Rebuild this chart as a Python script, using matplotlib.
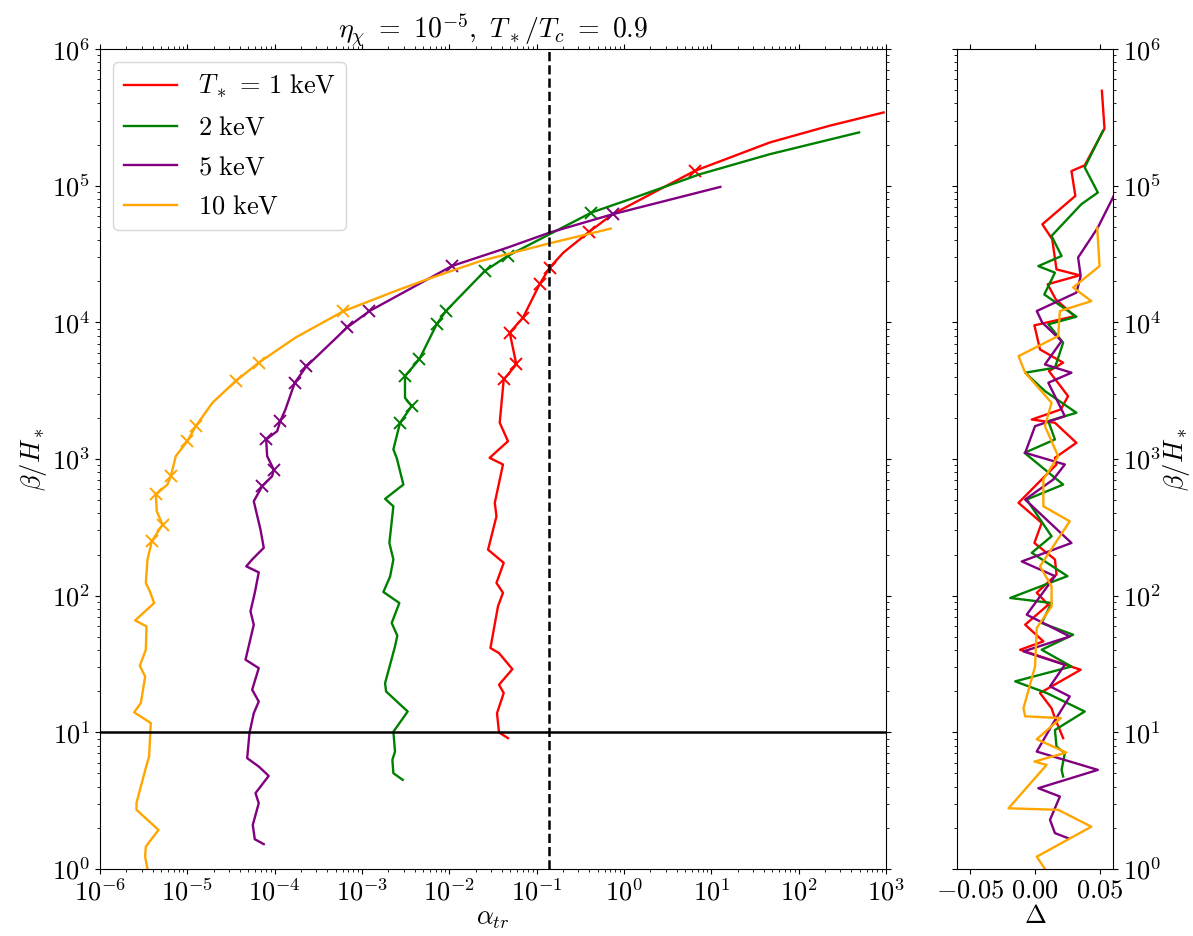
import numpy as np
import matplotlib
matplotlib.use('Agg')
import matplotlib.pyplot as plt
from matplotlib.ticker import LogLocator, NullFormatter

# --- data ------------------------------------------------------------------
labels = [r'$T_*\,=\,1\ \mathrm{keV}$', r'$2\ \mathrm{keV}$', r'$5\ \mathrm{keV}$', r'$10\ \mathrm{keV}$']
colors = ['red', 'green', 'purple', 'orange']

# T* = 1 keV
alpha_1 = [4.70e-2, 3.71e-2, 3.52e-2, 4.20e-2, 3.71e-2, 5.28e-2, 3.71e-2, 2.96e-2, 3.61e-2, 4.12e-2,
           3.47e-2, 4.20e-2, 2.78e-2, 3.47e-2, 3.32e-2, 4.12e-2, 2.90e-2, 4.70e-2, 3.78e-2, 4.20e-2,
           5.86e-2, 4.92e-2, 6.98e-2, 0.108, 0.141, 0.203, 0.398, 0.741, 6.46, 46.9, 225, 942]
beta_1 = [9.07, 9.97, 13.8, 19.4, 22.3, 29.0, 38.0, 41.4, 83.5, 105,
          124, 174, 217, 381, 478, 912, 1020, 1350, 1842, 3820,
          4920, 8410, 10820, 18970, 25150, 32430, 45900, 61800, 128300, 207300, 274400, 343600]
marks_1 = [19, 20, 21, 22, 23, 24, 26, 28]

# 2 keV
alpha_2 = [2.93e-3, 2.29e-3, 2.23e-3, 2.39e-3, 2.29e-3, 3.34e-3, 1.89e-3, 1.84e-3, 2.39e-3, 2.54e-3,
           2.19e-3, 2.68e-3, 1.76e-3, 2.10e-3, 2.29e-3, 2.06e-3, 2.29e-3, 1.84e-3, 2.98e-3, 2.50e-3,
           2.29e-3, 2.73e-3, 3.71e-3, 3.11e-3, 3.11e-3, 4.53e-3, 7.16e-3, 9.14e-3, 2.55e-2, 4.65e-2,
           0.425, 1.17, 7.43, 46.9, 493]
beta_2 = [4.49, 5.02, 6.29, 7.23, 10.1, 14.2, 19.9, 22.9, 42.5, 51.0,
          63.1, 88.4, 106.4, 138, 184, 243, 451, 511, 650, 1020,
          1175, 1842, 2438, 2807, 4045, 5360, 9670, 12100, 23770, 30600,
          63640, 79600, 121400, 170100, 245500]
marks_2 = [21, 22, 24, 25, 26, 27, 28, 29, 30]

# 5 keV
alpha_5 = [7.51e-5, 5.93e-5, 5.62e-5, 6.58e-5, 6.04e-5, 8.56e-5, 6.58e-5, 4.85e-5, 5.15e-5, 5.77e-5,
           6.58e-5, 5.53e-5, 6.58e-5, 4.64e-5, 5.77e-5, 5.29e-5, 5.93e-5, 6.58e-5, 4.73e-5, 5.53e-5,
           7.51e-5, 6.89e-5, 5.77e-5, 7.20e-5, 9.36e-5, 9.77e-5, 8.21e-5, 8.00e-5, 1.07e-4, 1.16e-4,
           1.33e-4, 1.70e-4, 2.31e-4, 6.78e-4, 1.22e-3, 1.07e-2, 4.65e-2, 0.141, 0.741, 12.7]
beta_5 = [1.52, 1.65, 2.10, 3.03, 3.59, 4.80, 5.62, 6.47, 9.87, 13.8,
          16.8, 20.5, 29.5, 34.0, 61.3, 76.8, 105, 148, 164, 184,
          224, 304, 491, 632, 748, 838, 1049, 1390, 1600, 1893,
          2305, 3615, 4760, 9190, 12100, 25840, 35240, 45380, 61800, 98000]
marks_5 = [23, 25, 27, 29, 31, 32, 33, 34, 35, 38]

# 10 keV
alpha_10 = [3.50e-6, 3.29e-6, 3.35e-6, 4.68e-6, 2.62e-6, 2.62e-6, 3.35e-6, 3.65e-6, 3.82e-6, 2.46e-6,
            2.94e-6, 3.29e-6, 2.86e-6, 3.35e-6, 3.41e-6, 2.53e-6, 4.17e-6, 3.72e-6, 3.35e-6, 3.50e-6,
            3.92e-6, 5.20e-6, 4.47e-6, 4.36e-6, 5.93e-6, 6.47e-6, 7.38e-6, 1.00e-5, 1.25e-5, 1.94e-5,
            3.57e-5, 6.58e-5, 1.73e-4, 6.10e-4, 2.73e-3, 6.01e-3, 2.23e-2, 0.141, 0.706]
beta_10 = [1.0, 1.23, 1.46, 1.93, 2.71, 3.05, 5.50, 6.65, 11.7, 14.0,
           16.4, 25.6, 30.7, 40.2, 59.6, 65.9, 88.4, 107.6, 124, 184,
           250, 331, 415, 550, 650, 748, 1049, 1350, 1738, 2580,
           3715, 5070, 7730, 12050, 17470, 21000, 28000, 37900, 48550]
marks_10 = [20, 21, 23, 25, 27, 28, 30, 31, 33]

# right panel: Delta against beta/H*
beta_d1 = [4.95e5, 2.62e5, 1.41e5, 1.28e5, 8.42e4, 5.22e4, 4.06e4, 2.44e4, 2.21e4, 1.90e4,
           1.47e4, 1.11e4, 9510, 6340, 5070, 4400, 2886, 2305, 1945, 1842,
           1314, 1020, 912, 478, 341, 243, 184, 143, 105, 85.9,
           61.3, 46.3, 40.2, 28.7, 19.4, 15.0, 12.7, 9.07]
delta_1 = [0.0514, 0.0534, 0.0382, 0.0280, 0.0310, 0.0056, 0.0132, 0.0165, 0.0344, 0.0097,
           0.0160, 0.0305, -0.0005, 0.0038, 0.0216, 0.0107, 0.0254, 0.0198, -0.0025, 0.0153,
           0.0318, 0.0153, 0.0165, -0.0127, 0.0051, -0.0005, 0.0153, 0.0165, 0.0013, 0.0102,
           -0.0076, 0.0064, -0.0115, 0.0351, 0.0038, 0.0127, 0.0153, 0.0216]

beta_d2 = [2.52e5, 1.36e5, 8.91e4, 7.32e4, 4.29e4, 3.06e4, 2.58e4, 2.31e4, 1.60e4, 1.10e4,
           9670, 7100, 4660, 4280, 3140, 2180, 1893, 1390, 1110, 650,
           505, 272, 206, 139, 96.2, 88.4, 63.1, 51.8, 40.2, 30.3,
           23.6, 19.4, 14.2, 10.4, 7.87, 7.04, 5.31, 4.75]
delta_2 = [0.0522, 0.0382, 0.0483, 0.0356, 0.0127, 0.0204, 0.0025, 0.0153, 0.0071, 0.0318,
           0.0102, 0.0216, 0.0153, -0.0076, 0.0076, 0.0318, 0.0102, 0.0153, -0.0081, 0.0216,
           -0.0064, 0.0127, -0.0025, 0.0249, -0.0191, 0.0127, 0.0051, 0.0293, 0.0051, 0.0280,
           -0.0153, 0.0089, 0.0382, 0.0153, 0.0165, 0.0229, 0.0204, 0.0216]

beta_d5 = [9.8e4, 4.94e4, 2.98e4, 2.18e4, 1.65e4, 1.21e4, 9950, 7300, 4920, 4280,
           3615, 2060, 1740, 1110, 912, 708, 505, 243, 178, 139,
           72.6, 50.3, 39.1, 31.2, 21.7, 18.3, 11.7, 7.23, 5.31, 3.90,
           3.39, 2.29, 1.83, 1.68]
delta_5 = [0.064, 0.0483, 0.0331, 0.0351, 0.0318, 0.0013, 0.0056, 0.0204, 0.0076, 0.0280,
           0.0102, 0.0229, 0.0, -0.0076, 0.0229, 0.0140, -0.0076, 0.0280, -0.0102, 0.0153,
           -0.0064, 0.0267, -0.0089, 0.0229, 0.0115, 0.0267, 0.0140, 0.0013, 0.0483, 0.0025,
           0.0191, 0.0115, 0.0153, 0.0254]

beta_d10 = [4.94e4, 2.58e4, 1.80e4, 1.43e4, 1.21e4, 7940, 5660, 4280, 2580, 1740,
            1048, 708, 451, 350, 164, 117, 83.5, 58.0, 30.3, 15.0,
            13.1, 12.7, 8.91, 7.11, 6.11, 5.78, 2.78, 2.71, 2.04, 1.23, 1.0]
delta_10 = [0.0478, 0.0496, 0.0293, 0.0433, 0.0191, 0.0178, -0.0127, -0.0076, 0.0127, 0.0076,
            0.0178, 0.0064, 0.0064, 0.0267, 0.0038, 0.0127, 0.0127, 0.0013, 0.0, -0.0089,
            -0.0076, 0.0198, 0.0013, 0.0241, -0.0005, 0.0089, -0.0204, 0.0178, 0.0433, 0.0013, 0.0076]

alpha_cut = 0.14   # dashed line
beta_cut = 10      # solid line

# --- style -----------------------------------------------------------------
plt.rcParams['mathtext.fontset'] = 'cm'
plt.rcParams['font.family'] = 'serif'
plt.rcParams['font.serif'] = ['cmr10', 'DejaVu Serif']
plt.rcParams['axes.formatter.use_mathtext'] = True
plt.rcParams['axes.unicode_minus'] = False
plt.rcParams['font.size'] = 19

alphas = [alpha_1, alpha_2, alpha_5, alpha_10]
betas = [beta_1, beta_2, beta_5, beta_10]
marks = [marks_1, marks_2, marks_5, marks_10]
deltas = [delta_1, delta_2, delta_5, delta_10]
betas_d = [beta_d1, beta_d2, beta_d5, beta_d10]

fig = plt.figure(figsize=(11.93, 9.36), dpi=100)
ax = fig.add_axes([0.0838, 0.0716, 0.6588, 0.876])
ax2 = fig.add_axes([0.8022, 0.0716, 0.1308, 0.876])

for a, b, m, c, lab in zip(alphas, betas, marks, colors, labels):
    a = np.array(a)
    b = np.array(b)
    ax.plot(a, b, color=c, lw=1.7, label=lab)
    ax.plot(a[m], b[m], linestyle='none', marker='x', color=c, ms=9, mew=1.4)

ax.axhline(beta_cut, color='k', lw=1.8)
ax.axvline(alpha_cut, color='k', lw=1.8, ls='--')

ax.set_xscale('log')
ax.set_yscale('log')
ax.set_xlim(1e-6, 1e3)
ax.set_ylim(1, 1e6)
ax.xaxis.set_major_locator(LogLocator(base=10, numticks=20))
ax.xaxis.set_minor_locator(LogLocator(base=10, subs=np.arange(2, 10), numticks=200))
ax.xaxis.set_minor_formatter(NullFormatter())
ax.yaxis.set_major_locator(LogLocator(base=10, numticks=20))
ax.yaxis.set_minor_locator(LogLocator(base=10, subs=np.arange(2, 10), numticks=200))
ax.yaxis.set_minor_formatter(NullFormatter())
ax.tick_params(which='both', direction='out', top=True, right=True)
ax.set_xlabel(r'$\alpha_{tr}$', labelpad=1)
ax.set_ylabel(r'$\beta/H_*$', labelpad=2)
ax.set_title(r'$\eta_\chi\ =\ 10^{-5},\ T_*/T_c\ =\ 0.9$', fontsize=20, pad=5)
ax.legend(loc='upper left', fontsize=19, labelspacing=0.6)

for d, b, c in zip(deltas, betas_d, colors):
    ax2.plot(d, b, color=c, lw=1.7)

ax2.set_yscale('log')
ax2.set_ylim(1, 1e6)
ax2.set_xlim(-0.06, 0.06)
ax2.set_xticks([-0.05, 0.0, 0.05])
ax2.set_xticklabels([r'$-0.05$', r'$0.00$', r'$0.05$'])
ax2.yaxis.set_major_locator(LogLocator(base=10, numticks=20))
ax2.yaxis.set_minor_locator(LogLocator(base=10, subs=np.arange(2, 10), numticks=200))
ax2.yaxis.set_minor_formatter(NullFormatter())
ax2.yaxis.tick_right()
ax2.yaxis.set_label_position('right')
ax2.tick_params(which='both', direction='out', top=True, left=True, right=True,
                labelleft=False, labelright=True)
ax2.set_xlabel(r'$\Delta$', labelpad=1)
ax2.set_ylabel(r'$\beta/H_*$', labelpad=0)

fig.savefig('out.png', dpi=100)
